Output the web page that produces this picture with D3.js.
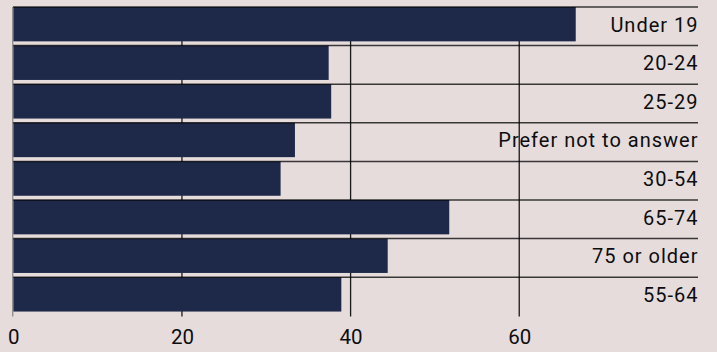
<!DOCTYPE html>
<html>
<head>
<meta charset="utf-8">
<script src="https://cdn.jsdelivr.net/npm/d3@7"></script>
<style>
  html, body { margin: 0; padding: 0; background: #e6dcdc; }
  svg { display: block; }
</style>
</head>
<body>
<svg id="chart" width="717" height="352"></svg>
<script>
const categories = ["Under 19", "20-24", "25-29", "Prefer not to answer", "30-54", "65-74", "75 or older", "55-64"];
const values = [66.7, 37.4, 37.7, 33.4, 31.7, 51.7, 44.4, 38.9];
const tickValues = [0, 20, 40, 60];

const W = 717, H = 352;
const svg = d3.select("#chart");
svg.append("rect").attr("width", W).attr("height", H).attr("fill", "#e6dcdc");

const x = d3.scaleLinear().domain([0, 81.2]).range([13.3, 698]);
const y = d3.scaleBand().domain(categories).range([7, 315.8]).padding(0);
const barH = y.bandwidth() * 0.89;
const data = categories.map((c, i) => ({ c, v: values[i] }));

// gridlines
svg.append("g").selectAll("line").data(tickValues.filter(t => t > 0)).join("line")
  .attr("x1", d => x(d)).attr("x2", d => x(d))
  .attr("y1", 7).attr("y2", 316.5)
  .attr("stroke", "#1a1a1a").attr("stroke-width", 1.3);

// bars
svg.append("g").selectAll("rect").data(data).join("rect")
  .attr("x", x(0)).attr("y", d => y(d.c))
  .attr("width", d => x(d.v) - x(0)).attr("height", barH)
  .attr("fill", "#1e2849");

// separator lines
svg.append("g").selectAll("line").data(categories).join("line")
  .attr("x1", 13).attr("x2", 698)
  .attr("y1", d => y(d)).attr("y2", d => y(d))
  .attr("stroke", "#000").attr("stroke-opacity", 0.75).attr("stroke-width", 1.5);

// left axis line
svg.append("line").attr("x1", x(0) - 0.5).attr("x2", x(0) - 0.5)
  .attr("y1", 7).attr("y2", 316.5)
  .attr("stroke", "#6e6e6e").attr("stroke-width", 1);

// x axis tick labels
const xAxis = d3.axisBottom(x).tickValues(tickValues).tickSize(0).tickPadding(0);
const gx = svg.append("g").attr("transform", "translate(0,322)").call(xAxis);
gx.select(".domain").remove();
gx.selectAll("text")
  .attr("font-family", "Roboto, sans-serif").attr("font-size", 20.5)
  .attr("fill", "#0d0d0d").attr("dy", "1em").attr("y", 1.5);

// category labels
svg.append("g").selectAll("text").data(categories).join("text")
  .attr("x", 698.5)
  .attr("y", d => y(d) + barH / 2 + 7.5)
  .attr("text-anchor", "end")
  .attr("font-family", "Roboto, sans-serif").attr("font-size", 20)
  .attr("letter-spacing", "1px")
  .attr("fill", "#0d0d0d")
  .text(d => d);
</script>
</body>
</html>
